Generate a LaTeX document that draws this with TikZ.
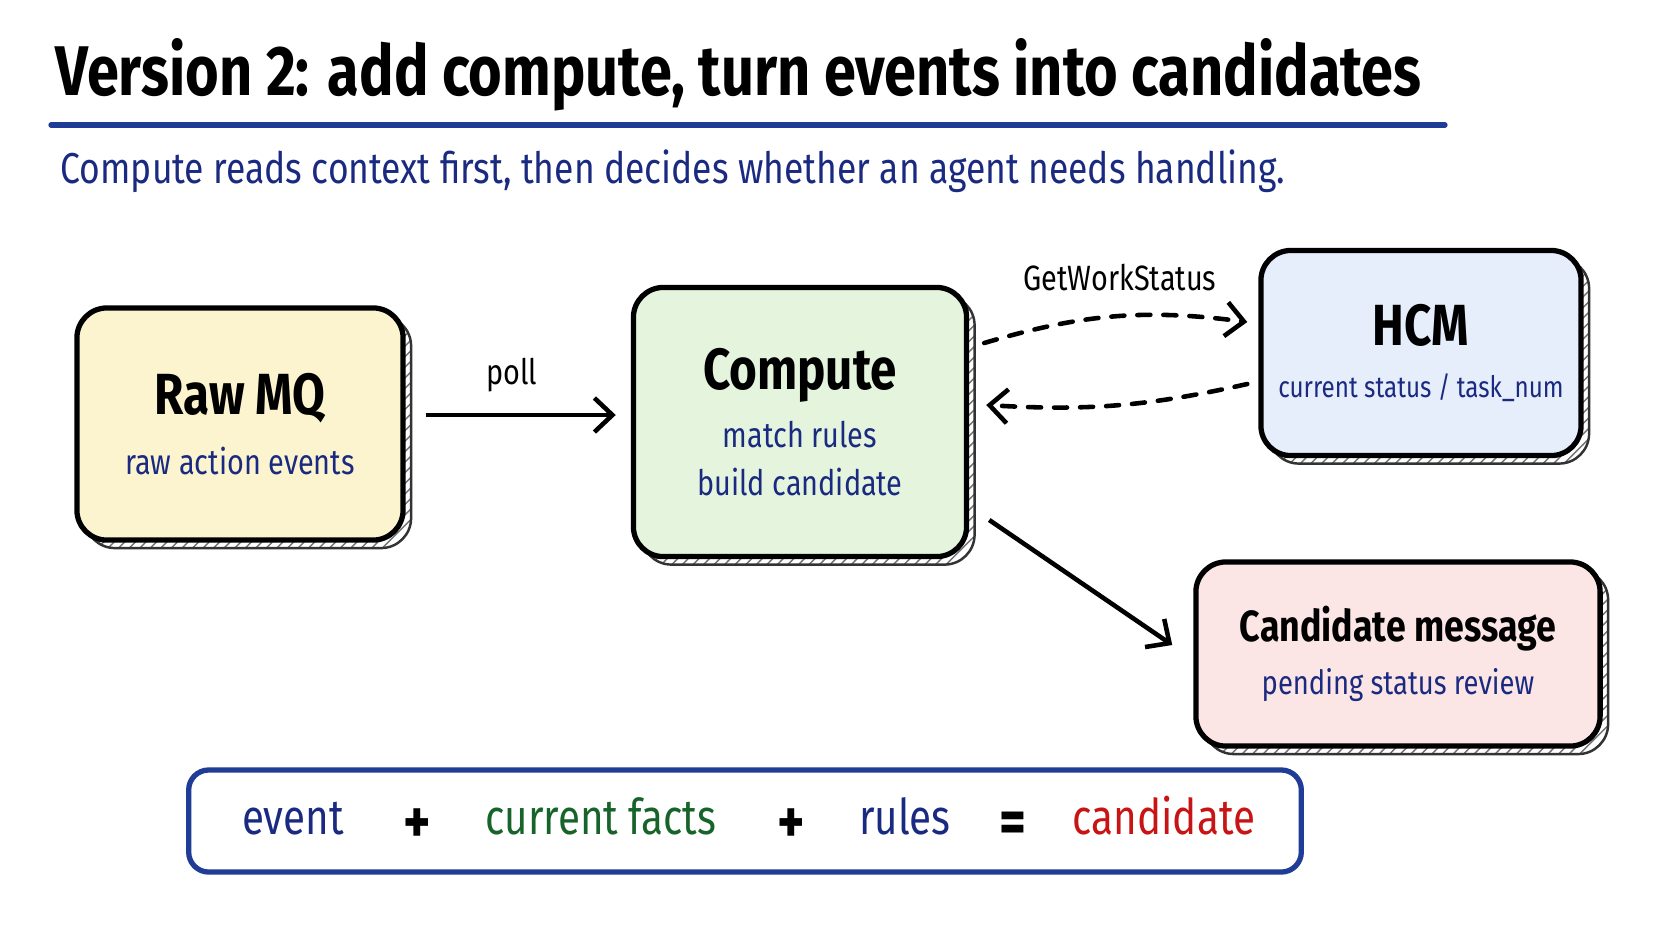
\documentclass[tikz,border=0pt]{standalone}
\usepackage{fontspec}
\setmainfont{Fira Sans}[FakeStretch=0.82]
\usetikzlibrary{positioning,calc,shadows,patterns,arrows.meta}
\definecolor{inkblue}{HTML}{1A2A80}
\definecolor{ruleblue}{HTML}{1F3C96}
\definecolor{inkgreen}{HTML}{17642A}
\definecolor{inkred}{HTML}{C81414}
\definecolor{rawfill}{HTML}{FBF4CF}
\definecolor{compfill}{HTML}{E5F4DD}
\definecolor{hcmfill}{HTML}{E6EEFB}
\definecolor{candfill}{HTML}{FBE5E5}
\newcommand{\headfont}{\fontsize{16.5}{19}\selectfont\bfseries}
\newcommand{\notefont}{\fontsize{10}{12}\selectfont\color{inkblue}}
\tikzstyle{card} = [rectangle, rounded corners=0.3cm, line width=1.5pt, draw=black, align=center, inner sep=0pt, font=\fontsize{10}{12}\selectfont, general shadow={shadow xshift=0.08cm, shadow yshift=-0.08cm, draw=black!80, line width=0.7pt, pattern=north east lines, pattern color=black!55}]
\tikzstyle{rawbox} = [card, fill=rawfill, minimum width=3.26cm, minimum height=2.32cm]
\tikzstyle{compbox} = [card, fill=compfill, minimum width=3.33cm, minimum height=2.69cm]
\tikzstyle{hcmbox} = [card, fill=hcmfill, minimum width=3.2cm, minimum height=2.05cm]
\tikzstyle{candbox} = [card, fill=candfill, minimum width=4.04cm, minimum height=1.84cm]
\tikzstyle{sumbox} = [rectangle, rounded corners=0.2cm, line width=1.5pt, draw=ruleblue, fill=white, minimum width=11.12cm, minimum height=1.02cm]
\tikzstyle{term} = [anchor=base, inner sep=0pt, font=\fontsize{14}{16}\selectfont]
\tikzstyle{op} = [anchor=base, inner sep=0pt, font=\fontsize{18}{20}\selectfont\bfseries]
\tikzstyle{arrow} = [line width=1.3pt, -{Straight Barb[length=0.18cm, width=0.34cm]}]
\tikzstyle{dasharrow} = [arrow, dash pattern=on 0.13cm off 0.13cm, line cap=round]
\tikzstyle{lbl} = [inner sep=0pt, font=\fontsize{10}{12}\selectfont]

\begin{document}
\begin{tikzpicture}[x=0.01cm, y=-0.01cm]
  \useasboundingbox (0,0) rectangle (1672,941);
  % heading
  \node (title)[anchor=west, inner sep=0pt, font=\fontsize{20}{23}\selectfont\bfseries] at (55,75) {Version 2: add compute, turn events into candidates};
  \draw [ruleblue, line width=1.5pt, line cap=round] (51,125) -- (1445,125);
  \node (sub)[anchor=west, inner sep=0pt, text=inkblue, font=\fontsize{12.3}{14}\selectfont] at (60,171) {Compute reads context first, then decides whether an agent needs handling.};

  % boxes
  \node (raw)[rawbox] at (240,424) {{\headfont Raw MQ}\\[5.2pt]{\notefont raw action events}};
  \node (comp)[compbox] at (800,422) {{\headfont Compute}\\[4.4pt]{\notefont match rules}\\[1.7pt]{\notefont build candidate}};
  \node (hcm)[hcmbox] at (1421,353) {{\headfont HCM}\\[3pt]{\notefont\fontsize{8.4}{10}\selectfont current status / task\_num}};
  \node (cand)[candbox] at (1398,654) {{\fontsize{12.4}{15}\selectfont\bfseries Candidate message}\\[3pt]{\notefont\fontsize{9.5}{11}\selectfont pending status review}};

  % connectors
  \draw [arrow] ($(raw.east)+(20,-9)$) -- ($(comp.west)+(-15,-7)$);
  \node (poll)[lbl] at (512,375) {poll};
  \draw [dasharrow] ($(comp.east)+(15,-79)$) to[bend left=12] ($(hcm.west)+(-11,-31)$);
  \node (getws)[lbl] at (1120,278) {GetWorkStatus};
  \draw [dasharrow] ($(hcm.west)+(-11,31)$) to[bend left=8] ($(comp.east)+(17,-17)$);
  \draw [arrow] ($(comp.east)+(20,98)$) -- ($(cand.west)+(-21,-9)$);

  % summary line
  \node (sum)[sumbox] at (745,821) {};
  \node (ev)[term, text=inkblue] at (293,834) {event};
  \node (plusA)[op] at (417,843) {+};
  \node (facts)[term, text=inkgreen] at (601,834) {current facts};
  \node (plusB)[op] at (791,843) {+};
  \node (rules)[term, text=inkblue] at (905,834) {rules};
  \node (eq)[op] at (1013,843) {=};
  \node (cnd)[term, text=inkred] at (1164,834) {candidate};
\end{tikzpicture}
\end{document}
